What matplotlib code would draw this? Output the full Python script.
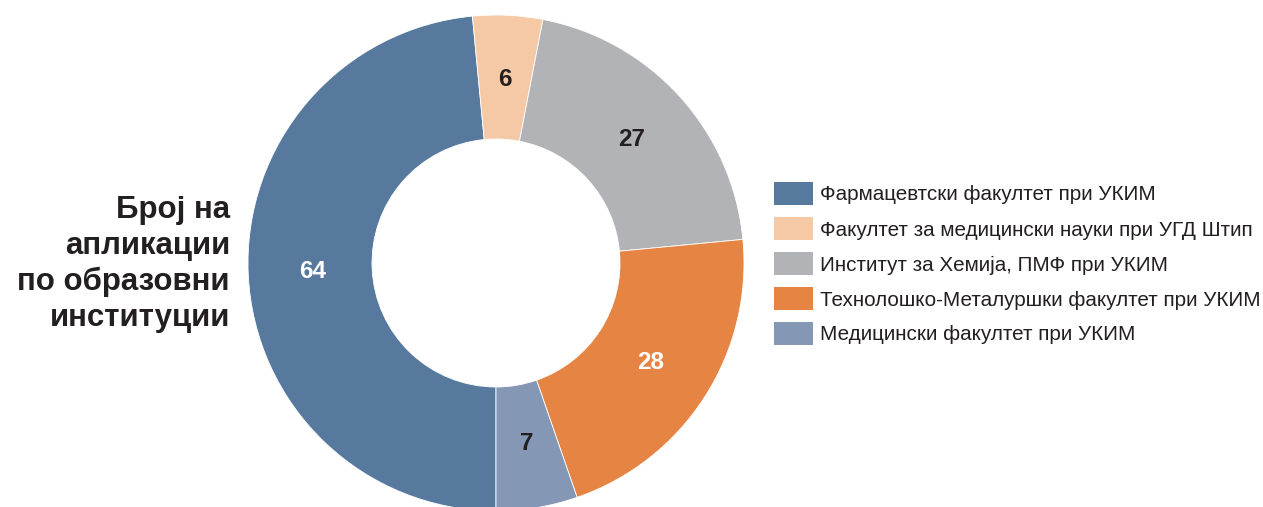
import matplotlib

matplotlib.use("Agg")
import matplotlib.pyplot as plt
from matplotlib.patches import Rectangle

plt.rcParams["font.family"] = ["Liberation Sans", "DejaVu Sans"]

# data (clockwise from the bottom)
institutions = [
    "Фармацевтски факултет при УКИМ",
    "Факултет за медицински науки при УГД Штип",
    "Институт за Хемија, ПМФ при УКИМ",
    "Технолошко-Металуршки факултет при УКИМ",
    "Медицински факултет при УКИМ",
]
applications = [64, 6, 27, 28, 7]
colors = ["#56799d", "#f5c9a6", "#b2b3b6", "#e68443", "#8497b5"]
label_colors = ["white", "#231f20", "#231f20", "white", "#231f20"]
title = "Број на\nапликации\nпо образовни\nинституции"

W, H = 1263, 507
fig = plt.figure(figsize=(W / 100, H / 100), dpi=100)

cx, cy, r = 496, 263, 248
ax = fig.add_axes([(cx - r) / W, (H - cy - r) / H, 2 * r / W, 2 * r / H])
wedges, _, autotexts = ax.pie(
    applications,
    colors=colors,
    startangle=-90,
    counterclock=False,
    radius=1,
    wedgeprops=dict(width=0.5, edgecolor="white", linewidth=0.6),
    autopct=lambda p: f"{round(p * sum(applications) / 100):d}",
    pctdistance=0.74,
)
for t, c in zip(autotexts, label_colors):
    t.set_color(c)
    t.set_fontsize(17.5)
    t.set_fontweight("bold")
ax.set_xlim(-1, 1)
ax.set_ylim(-1, 1)
ax.axis("off")

fig.text(230 / W, (H - 264) / H, title, ha="right", va="center",
         fontsize=22.5, fontweight="bold", color="#231f20", linespacing=1.25)

# legend drawn as swatches + labels in pixel-based figure coords
row0, step = 193, 35
for i, (name, col) in enumerate(zip(institutions, colors)):
    yc = row0 + i * step
    fig.patches.append(Rectangle((774 / W, (H - yc - 11.5) / H), 39 / W, 23 / H,
                                 transform=fig.transFigure, facecolor=col,
                                 edgecolor="none"))
    fig.text(820 / W, (H - yc) / H, name, ha="left", va="center_baseline",
             fontsize=14.9, color="#231f20")

fig.savefig("out.png", dpi=100)
